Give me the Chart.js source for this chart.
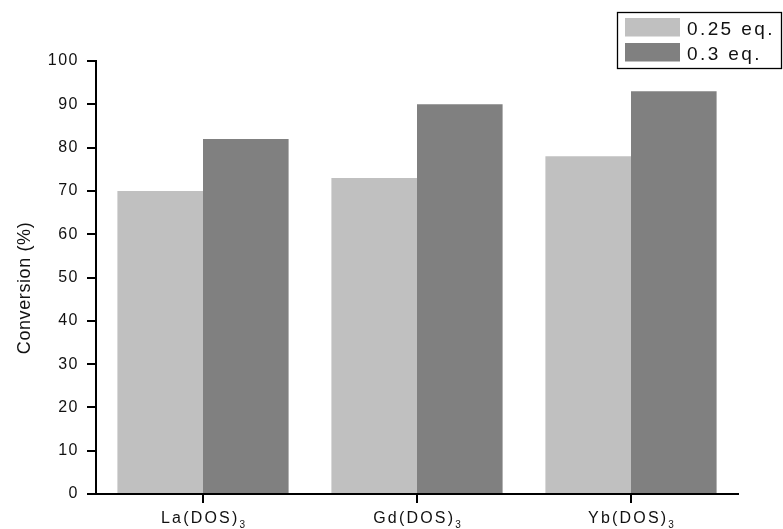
<!DOCTYPE html>
<html>
<head>
<meta charset="utf-8">
<script src="https://cdn.jsdelivr.net/npm/chart.js@4.4.1/dist/chart.umd.min.js"></script>
<style>
  html, body { margin: 0; padding: 0; background: #fff; }
  #wrap { width: 783px; height: 529px; }
</style>
</head>
<body>
<div id="wrap"><canvas id="c" width="783" height="529"></canvas></div>
<script>
// Catalysts (subscript written separately when labels are drawn)
const catalysts = ['La(DOS)', 'Gd(DOS)', 'Yb(DOS)'];
const catalystSubscripts = ['3', '3', '3'];

// Conversion (%) for each loading
const conv025 = [70, 73, 78];
const conv03 = [82, 90, 93];

const seriesNames = ['0.25 eq.', '0.3 eq.'];
const yTicks = [0, 10, 20, 30, 40, 50, 60, 70, 80, 90, 100];
const yTitle = 'Conversion (%)';

const FONT = '"Liberation Sans", Arial, Helvetica, sans-serif';

// Category labels with subscripts, placed at each x tick
const categoryLabels = {
  id: 'categoryLabels',
  afterDraw(chart) {
    const ctx = chart.ctx;
    const xs = chart.scales.x;
    ctx.save();
    ctx.fillStyle = '#111';
    ctx.textBaseline = 'alphabetic';
    ctx.textAlign = 'left';
    chart.data.labels.forEach((lab, i) => {
      const cx = xs.getPixelForValue(i);
      ctx.letterSpacing = '2.2px';
      ctx.font = '16px ' + FONT;
      const w1 = ctx.measureText(lab).width;
      ctx.letterSpacing = '0px';
      ctx.font = '10px ' + FONT;
      const w2 = ctx.measureText(catalystSubscripts[i]).width;
      const x0 = cx - (w1 + w2) / 2;
      ctx.letterSpacing = '2.2px';
      ctx.font = '16px ' + FONT;
      ctx.fillText(lab, x0, 522.5);
      ctx.letterSpacing = '0px';
      ctx.font = '10px ' + FONT;
      ctx.fillText(catalystSubscripts[i], x0 + w1, 528);
    });
    ctx.restore();
  }
};

// Y axis title
const yAxisTitle = {
  id: 'yAxisTitle',
  afterDraw(chart) {
    const ctx = chart.ctx;
    ctx.save();
    ctx.translate(30, 288);
    ctx.rotate(-Math.PI / 2);
    ctx.font = '18px ' + FONT;
    ctx.letterSpacing = '0.6px';
    ctx.fillStyle = '#111';
    ctx.textAlign = 'center';
    ctx.textBaseline = 'alphabetic';
    ctx.fillText(yTitle, 0, 0);
    ctx.restore();
  }
};

// Boxed legend in the top-right corner
const boxLegend = {
  id: 'boxLegend',
  afterDraw(chart) {
    const ctx = chart.ctx;
    ctx.save();
    ctx.strokeStyle = '#000';
    ctx.lineWidth = 1.3;
    ctx.strokeRect(617.5, 12.5, 164, 56);
    ctx.font = '19px ' + FONT;
    ctx.letterSpacing = '2.4px';
    ctx.textAlign = 'left';
    ctx.textBaseline = 'alphabetic';
    chart.data.datasets.forEach((ds, i) => {
      const y = 18 + i * 25;
      ctx.fillStyle = ds.backgroundColor;
      ctx.fillRect(625, y, 55, 18.5);
      ctx.fillStyle = '#111';
      ctx.fillText(ds.label, 687, y + 17);
    });
    ctx.restore();
  }
};

// Letter spacing used by the axis tick labels
const tickSpacing = {
  id: 'tickSpacing',
  beforeDraw(chart) { chart.ctx.letterSpacing = '1.5px'; }
};

new Chart(document.getElementById('c'), {
  type: 'bar',
  data: {
    labels: catalysts,
    datasets: [
      { label: seriesNames[0], data: conv025, backgroundColor: '#c0c0c0',
        categoryPercentage: 0.8, barPercentage: 1.0 },
      { label: seriesNames[1], data: conv03, backgroundColor: '#808080',
        categoryPercentage: 0.8, barPercentage: 1.0 }
    ]
  },
  options: {
    responsive: false,
    animation: false,
    events: [],
    layout: { padding: { top: 61, right: 45, left: 0, bottom: 0 } },
    plugins: { legend: { display: false }, tooltip: { enabled: false } },
    scales: {
      x: {
        offset: true,
        grid: { display: true, drawOnChartArea: false, drawTicks: true, tickLength: 9,
                color: '#000', lineWidth: 2, offset: false },
        border: { display: true, color: '#000', width: 2 },
        ticks: { display: false },
        afterFit(s) { s.height = 35; }
      },
      y: {
        min: 0, max: 100,
        afterBuildTicks(s) { s.ticks = yTicks.map(v => ({ value: v })); },
        grid: { display: true, drawOnChartArea: false, drawTicks: true, tickLength: 9,
                color: '#000', lineWidth: 2 },
        border: { display: true, color: '#000', width: 2 },
        ticks: { color: '#111', padding: 8, font: { size: 16, family: FONT } },
        afterFit(s) { s.width = 96; }
      }
    }
  },
  plugins: [tickSpacing, categoryLabels, yAxisTitle, boxLegend]
});
</script>
</body>
</html>
